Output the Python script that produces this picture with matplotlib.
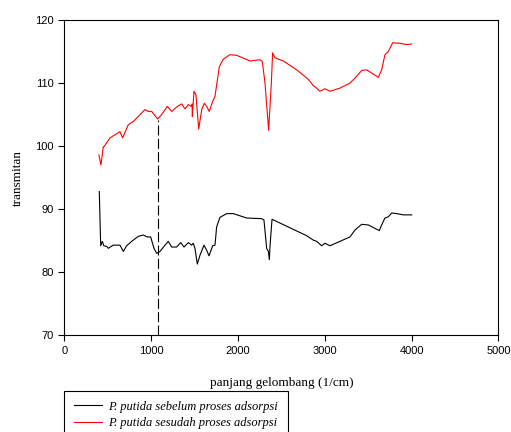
import matplotlib
matplotlib.use("Agg")
import matplotlib.pyplot as plt

# spektrum sebelum adsorpsi (hitam)
x_before = [401, 417, 436, 453, 486, 505, 562, 639, 678, 716, 774, 851, 908, 954, 993,
            1031, 1062, 1100, 1158, 1196, 1235, 1292, 1339, 1377, 1427, 1465, 1484, 1503,
            1530, 1561, 1607, 1638, 1665, 1707, 1734, 1753, 1791, 1869, 1945, 2099, 2271,
            2298, 2329, 2349, 2360, 2368, 2391, 2483, 2636, 2790, 2866, 2905, 2963, 3001,
            3059, 3174, 3289, 3347, 3424, 3501, 3627, 3654, 3692, 3731, 3770, 3827, 3904, 4000]
y_before = [92.8, 84.2, 84.9, 84.2, 84.1, 83.8, 84.3, 84.3, 83.3, 84.2, 84.9, 85.7, 85.9, 85.6, 85.6,
            83.8, 83.0, 83.3, 84.3, 84.9, 84.0, 84.0, 84.7, 84.0, 84.7, 84.3, 84.6, 83.8,
            81.3, 82.7, 84.3, 83.5, 82.6, 84.2, 84.3, 87.2, 88.7, 89.3, 89.3, 88.6, 88.5,
            88.3, 83.8, 83.3, 82.0, 84.2, 88.4, 87.8, 86.8, 85.8, 85.1, 84.9, 84.2, 84.6,
            84.2, 84.9, 85.6, 86.7, 87.6, 87.5, 86.6, 87.5, 88.6, 88.8, 89.4, 89.3, 89.1, 89.1]

# spektrum sesudah adsorpsi (merah)
x_after = [397, 420, 447, 455, 524, 639, 670, 735, 793, 870, 927, 966, 1004, 1073, 1119,
           1185, 1235, 1292, 1350, 1388, 1427, 1457, 1470, 1473, 1492, 1515, 1546, 1581,
           1611, 1638, 1668, 1707, 1734, 1753, 1784, 1830, 1906, 1984, 2137, 2252, 2279,
           2310, 2352, 2383, 2398, 2425, 2521, 2675, 2809, 2866, 2905, 2943, 3001, 3059,
           3174, 3289, 3347, 3424, 3482, 3616, 3654, 3692, 3731, 3781, 3865, 3942, 4000]
y_after = [98.6, 97.0, 99.9, 99.9, 101.3, 102.3, 101.3, 103.4, 103.9, 105.0, 105.8, 105.5, 105.5, 104.3, 105.0,
           106.3, 105.5, 106.2, 106.7, 105.9, 106.6, 106.3, 106.7, 104.7, 108.7, 108.1, 102.7, 105.8,
           106.8, 106.3, 105.5, 107.1, 107.9, 109.7, 112.6, 113.8, 114.5, 114.4, 113.5, 113.7, 113.4,
           110.0, 102.5, 110.0, 114.8, 114.0, 113.5, 112.1, 110.6, 109.6, 109.2, 108.7, 109.1, 108.7,
           109.2, 110.0, 110.8, 112.0, 112.1, 110.9, 112.1, 114.5, 115.0, 116.4, 116.3, 116.1, 116.2]

x_marker = 1081
y_marker_top = 104.2

fig = plt.figure(figsize=(5.11, 4.32), dpi=100)
ax = fig.add_axes([0.1262, 0.2238, 0.8493, 0.7299])

ax.plot(x_before, y_before, color='black', lw=0.8, label='P. putida sebelum proses adsorpsi')
ax.plot(x_after, y_after, color='#ff0000', lw=0.8, label='P. putida sesudah proses adsorpsi')
ax.vlines(x_marker, 70, y_marker_top, colors='black', lw=0.8, linestyles=(0, (9, 3)))

ax.set_xlim(0, 5000)
ax.set_ylim(70, 120)
ax.set_xticks([0, 1000, 2000, 3000, 4000, 5000])
ax.set_yticks([70, 80, 90, 100, 110, 120])
ax.tick_params(direction='out', length=4, width=0.8, labelsize=8)
for lab in ax.get_xticklabels() + ax.get_yticklabels():
    lab.set_fontfamily('Liberation Sans')
for s in ax.spines.values():
    s.set_linewidth(0.8)

ax.set_xlabel('panjang gelombang (1/cm)', family='Liberation Serif', fontsize=9.5, labelpad=15)
ax.set_ylabel('transmitan', family='Liberation Serif', fontsize=9.5, labelpad=8)

leg = fig.legend(loc='upper left', bbox_to_anchor=(64 / 511, 1 - 390.7 / 432),
                 prop={'family': 'Liberation Serif', 'style': 'italic', 'size': 9},
                 frameon=True, fancybox=False, edgecolor='black', framealpha=1,
                 borderaxespad=0, handlelength=2.2, handletextpad=0.55, borderpad=0.8,
                 labelspacing=0.35)
leg.get_frame().set_linewidth(0.8)

fig.savefig('out.png', dpi=100)
